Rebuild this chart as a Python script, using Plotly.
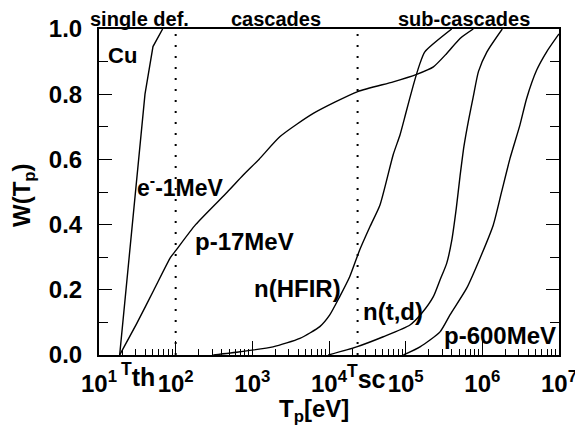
import plotly.graph_objects as go

# ---- data (T in eV, W fraction) ----
e1mev_T = [18.6, 33.1, 39.8, 50.6, 67.6]
e1mev_W = [0.0, 0.60, 0.80, 0.946, 1.0]

p17_T = [18.6, 31.6, 52.1, 86.1, 100, 182, 472, 762, 1220, 2300, 6240, 23700,
         68900, 139000, 230000, 343000, 512000, 762000]
p17_W = [0.0, 0.10, 0.20, 0.30, 0.32, 0.40, 0.50, 0.552, 0.60, 0.670, 0.741, 0.808,
         0.838, 0.861, 0.884, 0.925, 0.971, 1.0]

hfir_T = [309, 692, 1862, 4169, 7586, 10230, 13800, 18620, 25120, 34280, 46240,
          68870, 84330, 100000, 125900, 151400, 177800, 398100]
hfir_W = [0.0, 0.010, 0.025, 0.051, 0.087, 0.123, 0.179, 0.240, 0.322, 0.394, 0.46,
          0.615, 0.675, 0.74, 0.828, 0.89, 0.93, 1.0]

ntd_T = [9772, 22910, 51050, 113800, 161800, 229600, 280500, 342700, 398100, 457100,
         512900, 575400, 660700, 758600, 891300, 1148000, 1820000]
ntd_W = [0.0, 0.025, 0.056, 0.092, 0.128, 0.179, 0.230, 0.281, 0.35, 0.45,
         0.55, 0.64, 0.72, 0.79, 0.87, 0.93, 1.0]

p600_T = [93330, 153800, 280500, 378400, 625200, 933300, 1390000, 1786000, 2296000,
          3097000, 3784000, 5117000, 6902000, 10000000]
p600_W = [0.0, 0.025, 0.071, 0.123, 0.205, 0.297, 0.399, 0.501, 0.603,
          0.706, 0.787, 0.874, 0.930, 0.985]

T_TH = 18.6
T_SC = 23600
T_100 = 100

x_tickvals = [1e1, 1e2, 1e3, 1e4, 1e5, 1e6, 1e7]
x_ticktext = ["10<sup>1</sup>", "10<sup>2</sup>", "10<sup>3</sup>", "10<sup>4</sup>",
              "10<sup>5</sup>", "10<sup>6</sup>", "10<sup>7</sup>"]
x_minor = [m * d for d in [1e1, 1e2, 1e3, 1e4, 1e5, 1e6] for m in range(2, 10)]
y_tickvals = [0.0, 0.2, 0.4, 0.6, 0.8, 1.0]
y_ticktext = ["0.0", "0.2", "0.4", "0.6", "0.8", "1.0"]
y_minor = [0.1, 0.3, 0.5, 0.7, 0.9]

FONT = "Liberation Sans, Arial, sans-serif"

fig = go.Figure()
series = [(e1mev_T, e1mev_W, "linear"), (p17_T, p17_W, "spline"),
          (hfir_T, hfir_W, "spline"), (ntd_T, ntd_W, "spline"),
          (p600_T, p600_W, "spline")]
for xs, ys, shape in series:
    fig.add_trace(go.Scatter(x=xs, y=ys, mode="lines", showlegend=False,
                             line=dict(color="black", width=1.4, shape=shape,
                                       smoothing=0.6)))

for xv in [T_100, T_SC]:
    fig.add_trace(go.Scatter(x=[xv, xv], y=[0, 1], mode="lines", showlegend=False,
                             line=dict(color="black", width=2, dash="2px,9px")))

L, R, TOP, B = 99, 559, 29, 355


def px(x):
    return (x - L) / (R - L)


def py(y):
    return (B - y) / (B - TOP)


def ann(text, x, y, size=24, angle=0):
    fig.add_annotation(text=text, x=px(x), y=py(y), xref="paper", yref="paper",
                       showarrow=False, xanchor="center", yanchor="middle",
                       textangle=angle,
                       font=dict(family=FONT, size=size, color="black", weight="bold"))


ann("single def.", 139, 19, 20)
ann("cascades", 276, 19, 20)
ann("sub-cascades", 464, 19, 20)
ann("Cu", 122, 56, 22)
ann("e<sup>-</sup>-1MeV", 180, 186, 23)
ann("p-17MeV", 244, 241, 24)
ann("n(HFIR)", 297, 288, 24)
ann("n(t,d)", 393, 311, 24)
ann("p-600MeV", 500, 335, 24)
ann("<sup>T</sup>th", 138, 375, 25)
ann("<sup>T</sup>sc", 366, 377, 25)
ann("T<sub>p</sub>[eV]", 314, 410, 24)
ann("W(T<sub>p</sub>)", 24, 195, 24, -90)

fig.update_xaxes(type="log", range=[1, 7], tickmode="array", tickvals=x_tickvals,
                 ticktext=x_ticktext, ticks="inside", ticklen=14, tickwidth=1.3,
                 tickcolor="black", showline=True, linewidth=2, linecolor="black",
                 mirror=True, showgrid=False, zeroline=False, ticklabelstandoff=6,
                 ticklabeloverflow="allow", automargin=False,
                 tickfont=dict(family=FONT, size=24, color="black", weight="bold"),
                 minor=dict(tickmode="array", tickvals=x_minor, ticks="inside",
                            ticklen=6, tickwidth=1, tickcolor="black", showgrid=False))
fig.update_yaxes(range=[0, 1], tickmode="array", tickvals=y_tickvals,
                 ticktext=y_ticktext, ticks="inside", ticklen=13, tickwidth=1.3,
                 tickcolor="black", showline=True, linewidth=2, linecolor="black",
                 mirror="ticks", showgrid=False, zeroline=False, ticklabelstandoff=10,
                 automargin=False,
                 tickfont=dict(family=FONT, size=24, color="black", weight="bold"),
                 minor=dict(tickmode="array", tickvals=y_minor, ticks="inside",
                            ticklen=9, tickwidth=1.3, tickcolor="black", showgrid=False))

fig.update_layout(width=575, height=431, margin=dict(l=L, r=575 - R, t=TOP, b=431 - B),
                  paper_bgcolor="white", plot_bgcolor="white")

fig.write_html("out.html")
